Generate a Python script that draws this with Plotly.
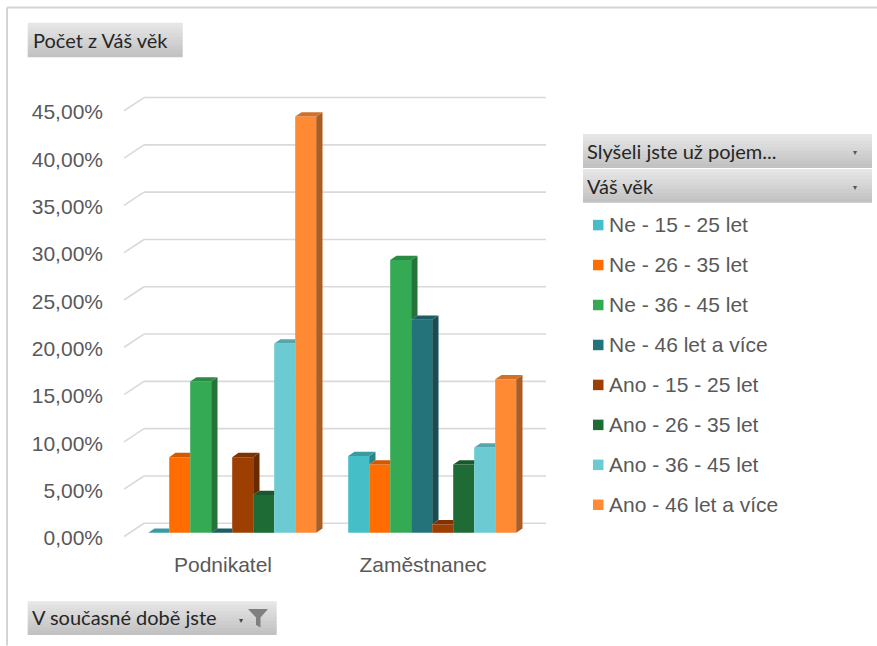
import plotly.graph_objects as go

# ---------------- data ----------------
categories = ["Podnikatel", "Zaměstnanec"]
series_names = [
    "Ne - 15 - 25 let", "Ne - 26 - 35 let", "Ne - 36 - 45 let", "Ne - 46 let a více",
    "Ano - 15 - 25 let", "Ano - 26 - 35 let", "Ano - 36 - 45 let", "Ano - 46 let a více",
]
ne_15_25 = [0.00, 8.11]
ne_26_35 = [8.00, 7.21]
ne_36_45 = [16.00, 28.83]
ne_46_plus = [0.00, 22.52]
ano_15_25 = [8.00, 0.90]
ano_26_35 = [4.00, 7.21]
ano_36_45 = [20.00, 9.01]
ano_46_plus = [44.00, 16.22]
series_values = [ne_15_25, ne_26_35, ne_36_45, ne_46_plus,
                 ano_15_25, ano_26_35, ano_36_45, ano_46_plus]
series_colors = ["#46BEC8", "#FF6D01", "#35AA55", "#24737B",
                 "#9C3F00", "#1F6B36", "#6CCBD2", "#FF8A33"]
y_ticks = [0, 5, 10, 15, 20, 25, 30, 35, 40, 45]
y_ticktext = [f"{v:.2f}".replace(".", ",") + "%" for v in y_ticks]

# ---------------- layout geometry ----------------
W_FIG, H_FIG = 877, 646
L, R, T, B = 124, 331, 74, 98.5
PW = W_FIG - L - R
PH = H_FIG - T - B
X_RANGE = [-0.541, 1.569]
Y_RANGE = [-1.5, 48.5]
BAR_W = 0.105
DX, DY = 0.0315, 0.454       # 3D depth of the bars (data units)
FLOOR_FRONT, FLOOR_BACK = -0.39, 1.01
X_BACK = -0.441


def px(x):
    return (x - L) / PW


def py(y):
    return (H_FIG - B - y) / PH


def shade(hexcol, f):
    h = hexcol.lstrip("#")
    r, g, b = (int(h[i:i + 2], 16) for i in (0, 2, 4))
    return "rgb({},{},{})".format(int(r * f), int(g * f), int(b * f))


fig = go.Figure()
cat_idx = list(range(len(categories)))

# front faces: real bars
for i, (name, vals, col) in enumerate(zip(series_names, series_values, series_colors)):
    fig.add_trace(go.Bar(
        x=cat_idx, y=vals, width=BAR_W, offset=(i - 4) * BAR_W, name=name,
        marker=dict(color=col, line=dict(width=0)), showlegend=False,
        hovertemplate=name + ": %{y:.2f}%<extra></extra>",
    ))

# side and top faces (3D look), derived from the values
n = len(series_values)
for j in cat_idx:
    for i in range(n):
        v = series_values[i][j]
        vn = series_values[i + 1][j] if i < n - 1 else None
        x0 = j + (i - 4) * BAR_W
        x1 = x0 + BAR_W
        col = series_colors[i]
        lo = 0 if vn is None else vn
        if v > lo:
            fig.add_trace(go.Scatter(
                x=[x1, x1 + DX, x1 + DX, x1, x1],
                y=[lo, lo + DY, v + DY, v, lo],
                mode="lines", fill="toself", fillcolor=shade(col, 0.68),
                line=dict(width=0), hoverinfo="skip", showlegend=False))
        if vn is not None and vn > v:
            tx = [x0, x1, x1, x0 + DX, x0]
            ty = [v, v, v + DY, v + DY, v]
        else:
            tx = [x0, x1, x1 + DX, x0 + DX, x0]
            ty = [v, v, v + DY, v + DY, v]
        fig.add_trace(go.Scatter(
            x=tx, y=ty, mode="lines", fill="toself", fillcolor=shade(col, 0.82),
            line=dict(width=0), hoverinfo="skip", showlegend=False))

shapes = []
# gridlines on the back wall with floor diagonals
for t in y_ticks:
    shapes.append(dict(type="line", xref="x", yref="y", layer="below",
                       x0=X_RANGE[0], y0=t + FLOOR_FRONT, x1=X_BACK, y1=t + FLOOR_BACK,
                       line=dict(color="#D9D9D9", width=1.6)))
    shapes.append(dict(type="line", xref="x", yref="y", layer="below",
                       x0=X_BACK, y0=t + FLOOR_BACK, x1=X_RANGE[1], y1=t + FLOOR_BACK,
                       line=dict(color="#D9D9D9", width=1.6)))

# frame lines
shapes.append(dict(type="line", xref="paper", yref="paper", x0=px(7), y0=py(7.5), x1=px(877), y1=py(7.5),
                   line=dict(color="#D4D4D4", width=2)))
shapes.append(dict(type="line", xref="paper", yref="paper", x0=px(7), y0=py(7.5), x1=px(7), y1=py(646),
                   line=dict(color="#D4D4D4", width=2)))


def gradient_box(x0, y0, x1, y1, top=(0xE6, 0xE6, 0xE6), bot=(0xC2, 0xC2, 0xC2), nb=10):
    h = (y1 - y0) / nb
    for k in range(nb):
        f = k / (nb - 1)
        c = tuple(int(top[m] + (bot[m] - top[m]) * f) for m in range(3))
        shapes.append(dict(type="rect", xref="paper", yref="paper", layer="below",
                           x0=px(x0), x1=px(x1), y0=py(y0 + k * h), y1=py(y0 + (k + 1) * h + 0.5),
                           fillcolor="rgb({},{},{})".format(*c), line=dict(width=0)))


annotations = []
UI_FONT = "Lato, Liberation Sans, Arial, sans-serif"


def label(x, y, text, size=20, color="#262626", anchor="left", family=UI_FONT):
    annotations.append(dict(xref="paper", yref="paper", x=px(x), y=py(y), text=text,
                            showarrow=False, xanchor=anchor, yanchor="middle",
                            font=dict(family=family, size=size, color=color)))


# "Počet z Váš věk" button
gradient_box(27.7, 22.7, 182.7, 56.7)
label(30.5, 40, "Počet z Váš věk")

# legend header buttons
gradient_box(583, 134, 872, 167.5)
label(585, 151, "Slyšeli jste už pojem...")
label(855, 152, "▾", size=8, color="#555555", anchor="center")
gradient_box(583, 169, 872, 202.5)
label(585, 186, "Váš věk")
label(855, 187, "▾", size=8, color="#555555", anchor="center")

# legend entries
LEG_FONT = "Liberation Sans, Arial, sans-serif"
for k, (name, col) in enumerate(zip(series_names, series_colors)):
    yc = 225 + 40 * k
    shapes.append(dict(type="rect", xref="paper", yref="paper",
                       x0=px(593), x1=px(603.5), y0=py(yc - 5), y1=py(yc + 5.5),
                       fillcolor=col, line=dict(width=0)))
    label(607, yc, name, size=21, color="#595959", family=LEG_FONT)

# bottom filter button
gradient_box(27.7, 601.7, 276.7, 635)
label(30, 618, "V současné době jste")
label(241, 621, "▾", size=8, color="#444444", anchor="center")
fun = [(248, 609.5), (268, 609.5), (260.5, 618), (260.5, 628), (256, 625.5), (256, 618)]
path = "M " + " L ".join("{:.5f},{:.5f}".format(px(a), py(b)) for a, b in fun) + " Z"
shapes.append(dict(type="path", xref="paper", yref="paper", path=path,
                   fillcolor="#7F7F7F", line=dict(width=0)))

fig.update_layout(
    width=W_FIG, height=H_FIG,
    margin=dict(l=L, r=R, t=T, b=B, pad=0),
    paper_bgcolor="white", plot_bgcolor="rgba(0,0,0,0)",
    barmode="overlay", showlegend=False,
    shapes=shapes, annotations=annotations,
    xaxis=dict(range=X_RANGE, showgrid=False, zeroline=False, showline=False,
               tickvals=[c - 0.046 for c in cat_idx], ticktext=categories, ticks="",
               ticklabelstandoff=3,
               tickfont=dict(family=LEG_FONT, size=21, color="#595959")),
    yaxis=dict(range=Y_RANGE, showgrid=False, zeroline=False, showline=False,
               tickvals=y_ticks, ticktext=y_ticktext, ticks="",
               ticklabelstandoff=20, ticklabelshift=5,
               tickfont=dict(family=LEG_FONT, size=21, color="#595959")),
    font=dict(family=LEG_FONT),
)

fig.write_html("out.html", config={"displayModeBar": False},
               post_script="document.body.style.margin='0';document.body.style.overflow='hidden';")
